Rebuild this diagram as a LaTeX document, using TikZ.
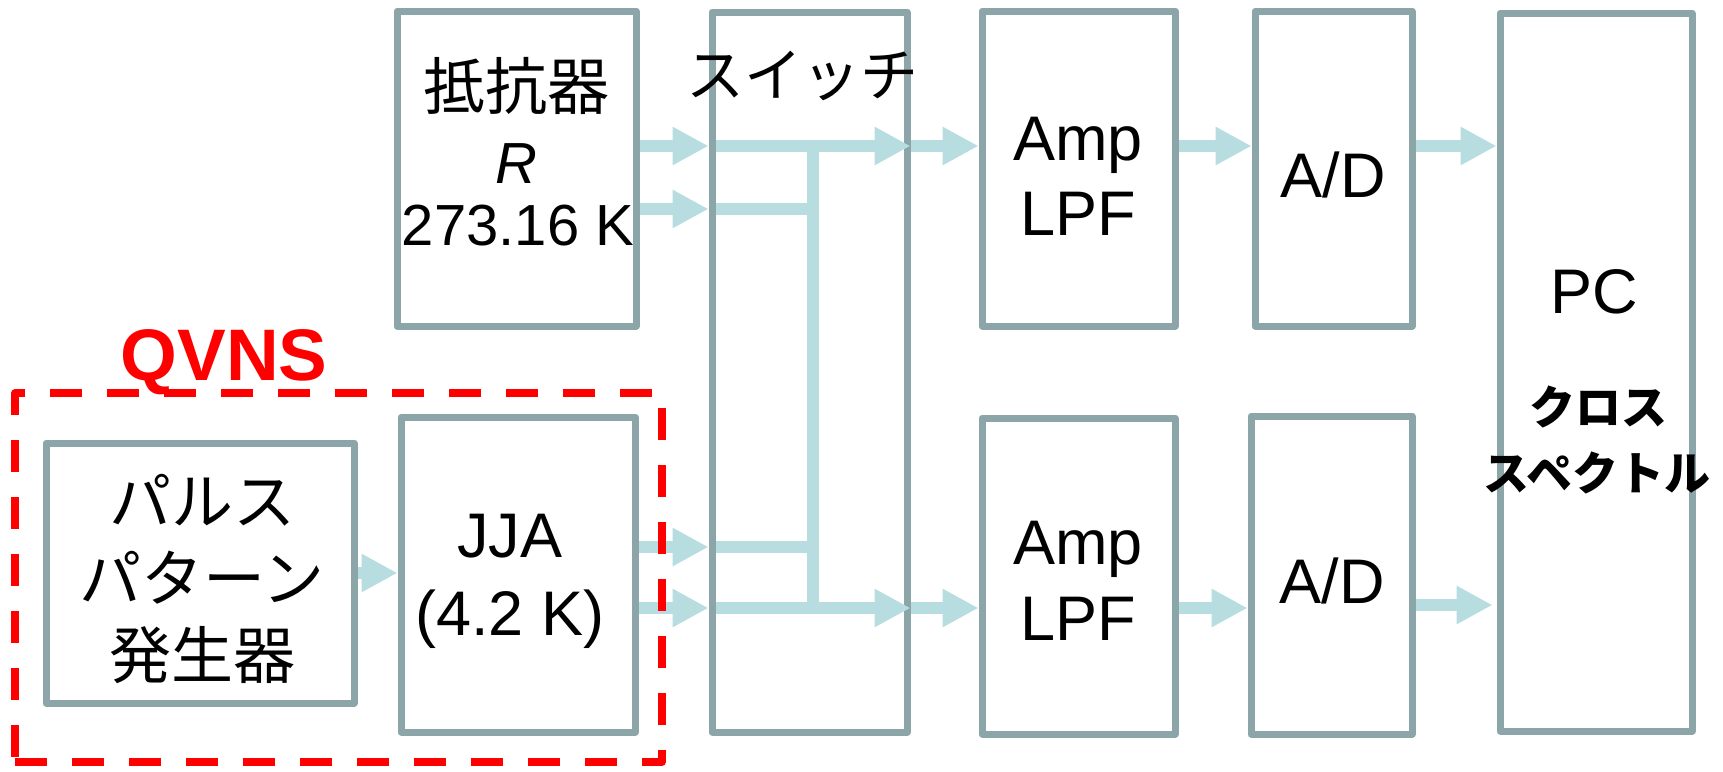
\documentclass[tikz,border=0pt]{standalone}
\usepackage{fontspec}
\setmainfont{Liberation Sans}
\newfontfamily\jp{Noto Sans CJK JP}
\usetikzlibrary{arrows.meta,calc}
\definecolor{boxgray}{RGB}{139,165,168}
\definecolor{arrblue}{RGB}{183,221,224}
\definecolor{qred}{RGB}{255,0,0}
\begin{document}
\begin{tikzpicture}[x=1pt,y=-1pt,
  blk/.style={draw=boxgray,line width=7pt,line join=round,inner sep=0pt},
  arr/.style={draw=arrblue,line width=12.5pt,-{Triangle[length=36pt,width=36pt]}},
  bus/.style={draw=arrblue,line width=12.5pt},
  lat/.style={anchor=base,font=\fontsize{63}{63}\selectfont},
  latR/.style={anchor=base,font=\fontsize{58}{58}\selectfont},
  cjk/.style={anchor=base,font=\jp\fontsize{62}{62}\selectfont},
  cjkb/.style={anchor=base,font=\jp\bfseries\fontsize{46}{46}\selectfont},
  qbox/.style={draw=qred,line width=7.5pt,dash pattern=on 32pt off 25pt,inner sep=0pt,line join=round}
]
\useasboundingbox (0,0) rectangle (1723,771);

% level coordinates
\coordinate (ya) at (0,146);
\coordinate (yb) at (0,209);
\coordinate (yc) at (0,547);
\coordinate (yd) at (0,608);
\coordinate (ye) at (0,573);
\coordinate (xbus) at (813,0);

% boxes
\node[blk,minimum width=239pt,minimum height=315pt] (R) at (516.5,168.5) {};
\node[blk,minimum width=195pt,minimum height=720pt] (sw) at (809.5,372) {};
\node[blk,minimum width=193pt,minimum height=315pt] (amp1) at (1078.5,168.5) {};
\node[blk,minimum width=157pt,minimum height=315pt] (ad1) at (1333.5,168.5) {};
\node[blk,minimum width=192pt,minimum height=718pt] (pc) at (1596,372) {};
\node[blk,minimum width=308pt,minimum height=260pt] (pulse) at (200,573) {};
\node[blk,minimum width=234pt,minimum height=315pt] (jja) at (518,574.5) {};
\node[blk,minimum width=193pt,minimum height=316pt] (amp2) at (1078.5,576) {};
\node[blk,minimum width=161pt,minimum height=318pt] (ad2) at (1331.5,575) {};

% texts
\node[cjk] (tR1) at (516,109) {抵抗器};
\node[latR,font=\itshape\fontsize{58}{58}\selectfont] (tR2) at (516,183) {R};
\node[latR] (tR3) at (518,245) {273.16 K};
\node[cjk,font=\jp\fontsize{58}{58}\selectfont] (tsw) at (802,96) {スイッチ};
\node[lat] (ta1a) at (1078,160) {Amp};
\node[lat] (ta1b) at (1078,235) {LPF};
\node[lat] (td1) at (1333,197) {A/D};
\node[lat] (ta2a) at (1078,564) {Amp};
\node[lat] (ta2b) at (1078,640) {LPF};
\node[lat] (td2) at (1332,603) {A/D};
\node[lat] (tpc) at (1594,313) {PC};
\node[cjkb] (tpc1) at (1598,424) {クロス};
\node[cjkb] (tpc2) at (1597,490) {スペクトル};
\node[cjk] (tp1) at (202,524) {パルス};
\node[cjk] (tp2) at (202,601) {パターン};
\node[cjk] (tp3) at (202,678) {発生器};
\node[lat] (tj1) at (510,557) {JJA};
\node[lat] (tj2) at (510,635) {(4.2 K)};
\node[anchor=base,text=qred,font=\bfseries\fontsize{73}{73}\selectfont] (tq) at (224,380) {QVNS};

% switch inner wiring
\draw[bus] ([xshift=7pt]sw.west |- yb) -- (xbus |- yb);
\draw[bus] ([xshift=7pt]sw.west |- yc) -- (xbus |- yc);
\draw[bus] (xbus |- ya) -- ([yshift=6pt]xbus |- yd);
\draw[arr] ([xshift=7pt]sw.west |- ya) -- (sw.east |- ya);
\draw[arr] ([xshift=7pt]sw.west |- yd) -- (sw.east |- yd);

% connectors
\draw[arr] (R.east |- ya) -- (sw.west |- ya);
\draw[arr] (R.east |- yb) -- (sw.west |- yb);
\draw[arr] (jja.east |- yc) -- (sw.west |- yc);
\draw[arr] (jja.east |- yd) -- (sw.west |- yd);
\draw[arr] (pulse.east |- ye) -- (jja.west |- ye);
\draw[arr] (sw.east |- ya) -- (amp1.west |- ya);
\draw[arr] (sw.east |- yd) -- (amp2.west |- yd);
\draw[arr] (amp1.east |- ya) -- (ad1.west |- ya);
\draw[arr] (amp2.east |- yd) -- (ad2.west |- yd);
\draw[arr] (ad1.east |- ya) -- (pc.west |- ya);
\draw[arr] ([yshift=3pt]ad2.east |- yd) -- ([yshift=3pt,xshift=-4pt]pc.west |- yd);

% QVNS dashed frame
\node[qbox,minimum width=647pt,minimum height=369pt] (qv) at (338.5,577.5) {};
\end{tikzpicture}
\end{document}
